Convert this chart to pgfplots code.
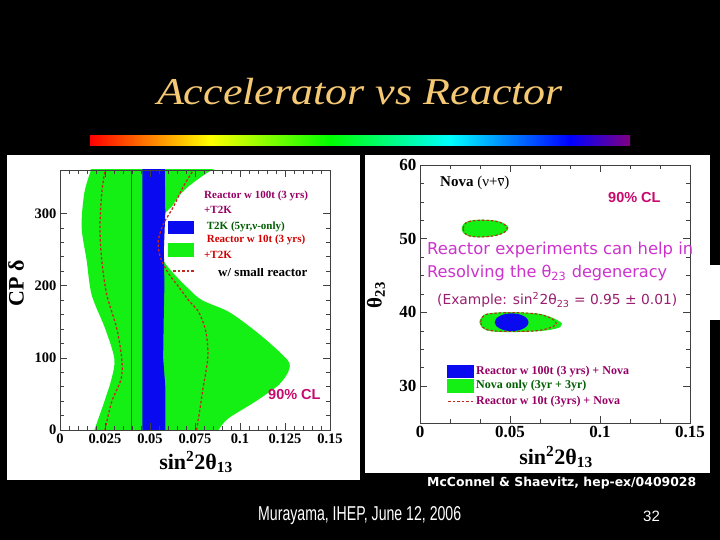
\documentclass[border=0pt]{standalone}
\usepackage{fontspec}
\usepackage{graphicx}
\usepackage{pgfplots}
\pgfplotsset{compat=1.18}
\setmainfont{Liberation Serif}
\newfontfamily\sansf{Liberation Sans}
\newfontfamily\comic{DejaVu Sans}
\definecolor{gold}{RGB}{245,200,115}
\definecolor{bgreen}{RGB}{20,240,20}
\definecolor{bblue}{RGB}{10,10,240}
\definecolor{dred}{RGB}{195,40,30}
\definecolor{purp}{RGB}{150,0,100}
\definecolor{dgreen}{RGB}{0,95,0}
\definecolor{lred}{RGB}{210,0,0}
\definecolor{mag}{RGB}{200,10,110}
\definecolor{violetm}{RGB}{204,51,204}
\definecolor{plum}{RGB}{153,30,110}
\tikzset{rdash/.style={dred, line width=1.3pt, dash pattern=on 2.5pt off 2pt}}
\begin{document}
\begin{tikzpicture}[x=1pt,y=1pt]
\fill[black] (0,0) rectangle (720,540);
\useasboundingbox (0,0) rectangle (720,540);
% decorative bar
\shade[left color=red, right color=yellow] (90,394) rectangle (210,404);
\shade[left color=yellow, right color=green] (210,394) rectangle (330,404);
\shade[left color=green, right color=cyan] (330,394) rectangle (450,404);
\shade[left color=cyan, right color=blue] (450,394) rectangle (570,404);
\shade[left color=blue, right color=violet] (570,394) rectangle (630,404);
% title
\node[anchor=base, text=gold, inner sep=0] at (360,435) {\scalebox{1}[0.86]{\resizebox{406pt}{!}{\itshape Accelerator vs Reactor}}};
% panels
\fill[white] (7,60) rectangle (360,385);
\fill[white] (365,67) rectangle (710,385);
\fill[white] (710,220) rectangle (720,275);

% ---------------- left plot
\begin{axis}[
  at={(60pt,110pt)}, anchor=south west, scale only axis, width=270pt, height=260pt,
  xmin=0, xmax=0.15, ymin=0, ymax=360,
  xtick={0,0.025,0.05,0.075,0.1,0.125,0.15},
  xticklabels={0,0.025,0.05,0.075,0.1,0.125,0.15},
  scaled x ticks=false,
  minor x tick num=4,
  ytick={0,100,200,300}, minor y tick num=4,
  tick align=inside,
  major tick length=7pt, minor tick length=4pt,
  axis line style={black!75, line width=0.6pt},
  every tick/.style={black!75, line width=0.5pt},
  tick label style={font=\bfseries\fontsize{14.5}{14.5}\selectfont},
  /pgf/number format/assume math mode=true,
  axis on top, clip=true,
]
\addplot[fill=bgreen, draw=none, smooth, tension=0.5] coordinates {
 (0.0185,-5) (0.0191,0) (0.0246,39) (0.0287,71.5) (0.0302,99) (0.025,141)
 (0.0176,187) (0.0148,235) (0.0120,281) (0.0135,328) (0.0172,360) (0.018,365)
 (0.087,365) (0.0843,360) (0.0787,351) (0.0713,337) (0.0657,323) (0.062,309)
 (0.0583,300) (0.0561,281) (0.055,258) (0.0574,235) (0.063,217) (0.0704,198)
 (0.0787,180) (0.0935,164) (0.1065,141) (0.1176,118) (0.1269,95) (0.1269,81)
 (0.1213,62) (0.1083,39) (0.0935,16) (0.088,0) (0.087,-5)
};
\addplot[fill=bblue, draw=none] coordinates {
 (0.0457,-5) (0.0457,365) (0.0582,365) (0.0585,300) (0.0577,250) (0.058,200)
 (0.0576,150) (0.0573,100) (0.0585,60) (0.0586,0) (0.0586,-5)
};
\addplot[black!70, line width=0.5pt] coordinates {(0.0398,0) (0.0398,360)};
\addplot[rdash, smooth] coordinates {
 (0.025,0) (0.0287,39) (0.034,71) (0.0343,99) (0.0315,141) (0.026,187)
 (0.0232,235) (0.0222,281) (0.0232,328) (0.025,360)
};
\addplot[rdash, smooth] coordinates {
 (0.0759,0) (0.0778,30) (0.0796,60) (0.081,80) (0.0821,99) (0.082,118)
 (0.0806,141) (0.0769,164) (0.0713,180) (0.0657,199) (0.0602,217) (0.0556,240)
 (0.0546,262) (0.0574,285) (0.063,309) (0.0685,337) (0.0741,360)
};
\end{axis}
% left labels
\node[rotate=90, font=\bfseries\fontsize{22}{22}\selectfont] at (16,257) {CP δ};
\node[font=\bfseries\fontsize{22}{22}\selectfont] at (196,78) {sin\textsuperscript{2}2θ\textsubscript{13}};
% left legend
\fill[bblue] (167.7,306) rectangle (194.3,319);
\fill[bgreen] (167.7,283.3) rectangle (194.3,296.7);
\draw[rdash] (173,269) -- (195,269);
\begin{scope}[every node/.style={anchor=west, inner sep=0, font=\bfseries\fontsize{11}{11}\selectfont}]
\node[text=purp] at (204,344.3) {Reactor w 100t (3 yrs)};
\node[text=purp] at (204,330) {+T2K};
\node[text=dgreen] at (206.7,313.3) {T2K (5yr,ν-only)};
\node[text=lred] at (206.7,300) {Reactor w 10t (3 yrs)};
\node[text=lred] at (204,285) {+T2K};
\end{scope}
\begin{scope}
\clip (210,258) rectangle (330,271.7);
\node[anchor=base west, inner sep=0, font=\bfseries\fontsize{13}{13}\selectfont] at (218,263.5) {w/ small reactor};
\end{scope}
\node[anchor=west, inner sep=0, text=mag, font=\sansf\bfseries\fontsize{14.5}{14.5}\selectfont] at (268,145) {90\% CL};

% ---------------- right plot
\begin{axis}[
  at={(420pt,117pt)}, anchor=south west, scale only axis, width=270pt, height=258pt,
  xmin=0, xmax=0.15, ymin=25, ymax=60,
  xtick={0,0.05,0.1,0.15},
  xticklabels={0,0.05,0.1,0.15},
  scaled x ticks=false,
  minor x tick num=2,
  ytick={30,40,50,60}, minor y tick num=3,
  tick align=inside,
  major tick length=7pt, minor tick length=4pt,
  axis line style={black!75, line width=0.6pt},
  every tick/.style={black!75, line width=0.5pt},
  tick label style={font=\bfseries\fontsize{17}{17}\selectfont},
  /pgf/number format/assume math mode=true,
  axis on top, clip=true,
]
\addplot[fill=bgreen, draw=none, smooth, tension=0.6] coordinates {
 (0.0231,51.4) (0.0240,51.95) (0.0265,52.35) (0.030,52.53) (0.036,52.57)
 (0.042,52.45) (0.0465,52.1) (0.0491,51.5) (0.0475,50.9) (0.043,50.45)
 (0.037,50.22) (0.030,50.22) (0.026,50.45) (0.0238,50.85) (0.0231,51.4)
};
\addplot[rdash, line width=1.1pt, smooth, tension=0.6] coordinates {
 (0.0240,51.4) (0.0255,52.15) (0.030,52.45) (0.036,52.5) (0.042,52.38)
 (0.0465,52.0) (0.0485,51.45) (0.047,50.9) (0.043,50.5) (0.037,50.28)
 (0.030,50.28) (0.026,50.5) (0.0245,50.9) (0.0240,51.4)
};
\addplot[fill=bgreen, draw=none, smooth, tension=0.6] coordinates {
 (0.033,38.73) (0.0343,39.41) (0.038,39.86) (0.05,40.04) (0.0648,39.86)
 (0.0722,39.41) (0.0778,38.73) (0.0787,38.28) (0.0759,37.83) (0.0667,37.47)
 (0.05,37.33) (0.0389,37.47) (0.0343,37.96) (0.033,38.73)
};
\addplot[rdash, line width=1.1pt, smooth, tension=0.6] coordinates {
 (0.0337,38.73) (0.0348,39.38) (0.038,39.8) (0.05,39.97) (0.064,39.82)
 (0.071,39.4) (0.0752,38.75) (0.0748,38.2) (0.066,37.55) (0.05,37.42)
 (0.0392,37.55) (0.0348,38.0) (0.0337,38.73)
};
\addplot[fill=bblue, draw=none, smooth, tension=0.6] coordinates {
 (0.0603,38.67) (0.0596,39.13) (0.0575,39.52) (0.0545,39.78) (0.0509,39.87)
 (0.0473,39.78) (0.0443,39.52) (0.0422,39.13) (0.0415,38.67) (0.0422,38.21)
 (0.0443,37.82) (0.0473,37.56) (0.0509,37.47) (0.0545,37.56) (0.0575,37.82)
 (0.0596,38.21) (0.0603,38.67)
};
\end{axis}
% right labels
\node[rotate=90, font=\bfseries\fontsize{21}{21}\selectfont] at (376,245) {θ\textsubscript{23}};
\node[font=\bfseries\fontsize{22}{22}\selectfont] at (556,83) {sin\textsuperscript{2}2θ\textsubscript{13}};
\node[anchor=west, inner sep=0] at (440,357) {\fontsize{15}{15}\selectfont\textbf{Nova} (ν+$\overline{\mbox{ν}}$)};
\node[anchor=west, inner sep=0, text=mag, font=\sansf\bfseries\fontsize{14.5}{14.5}\selectfont] at (608,342) {90\% CL};
% right legend
\fill[bblue] (446.7,161.7) rectangle (474.3,175);
\fill[bgreen] (446.7,147.3) rectangle (474.3,160.7);
\draw[rdash] (448,138.3) -- (475,138.3);
\begin{scope}[every node/.style={anchor=west, inner sep=0, font=\bfseries\fontsize{12}{12}\selectfont}]
\node[text=purp] at (476,168.3) {Reactor w 100t (3 yrs) + Nova};
\node[text=dgreen] at (476,154) {Nova only (3yr + 3yr)};
\node[text=purp] at (476,138.3) {Reactor w 10t (3yrs) + Nova};
\end{scope}
% overlay text
\node[anchor=west, inner sep=0, text=violetm] at (427,290) {\resizebox{266pt}{!}{\comic Reactor experiments can help in}};
\node[anchor=west, inner sep=0, text=violetm] at (427,267) {\resizebox{240pt}{!}{\comic Resolving the θ\textsubscript{23} degeneracy}};
\node[anchor=west, inner sep=0, text=plum] at (437,240) {\resizebox{240pt}{!}{\comic (Example: sin\textsuperscript{2}2θ\textsubscript{23} = 0.95 ± 0.01)}};
% footer
\node[anchor=west, inner sep=0, text=white] at (427,57) {\resizebox{269pt}{!}{\comic\bfseries McConnel \& Shaevitz, hep-ex/0409028}};
\node[anchor=west, inner sep=0, text=white] at (258,24) {\resizebox{203pt}{14pt}{\sansf Murayama, IHEP, June 12, 2006}};
\node[anchor=west, inner sep=0, text=white, font=\sansf\fontsize{15}{15}\selectfont] at (643,24) {32};
\end{tikzpicture}
\end{document}
